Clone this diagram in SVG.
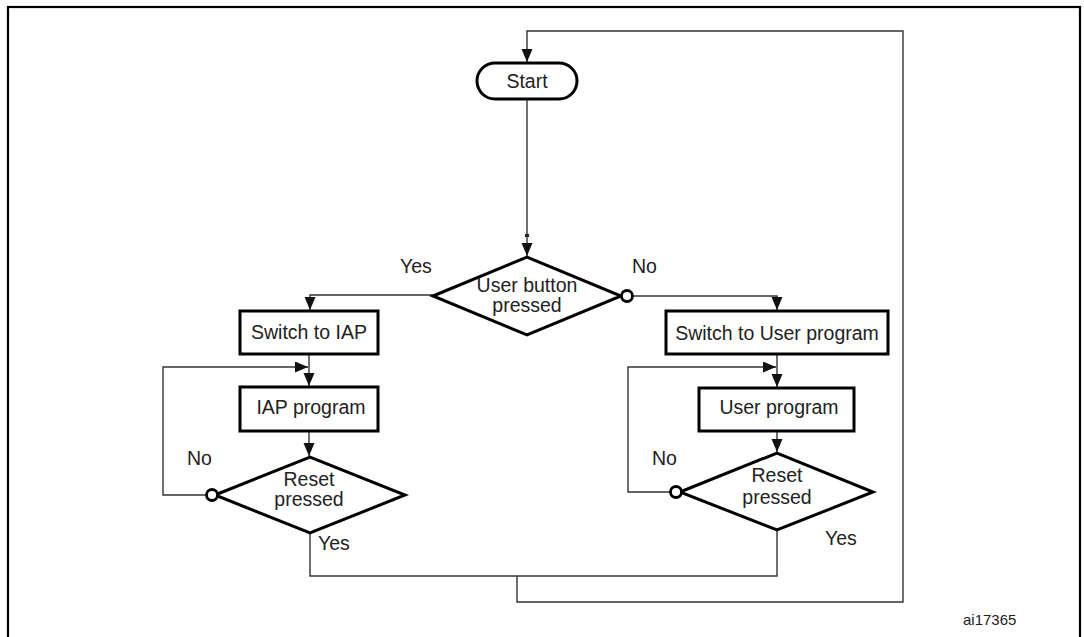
<svg xmlns="http://www.w3.org/2000/svg" width="1084" height="637" viewBox="0 0 1084 637">
<style>
  .node { fill: #fff; stroke: #000; stroke-width: 3; }
  .conn { fill: none; stroke: #333; stroke-width: 1.4; }
  .dot { fill: #fff; stroke: #000; stroke-width: 2.8; }
  text { font-family: "Liberation Sans", Arial, sans-serif; font-size: 19.5px; fill: #222; }
  .mid { text-anchor: middle; }
  .small { font-size: 15px; }
</style>
<defs>
  <marker id="arr" markerUnits="userSpaceOnUse" markerWidth="13" markerHeight="12" refX="13" refY="5.5" orient="auto">
    <path d="M0,0 L13,5.5 L0,11 z" fill="#111"/>
  </marker>
</defs>
<rect x="0" y="0" width="1084" height="637" fill="#fff"/>
<rect x="8" y="7" width="1072" height="650" fill="none" stroke="#000" stroke-width="2.2"/>

<g id="connectors">
  <path class="conn" d="M517,576 V602 H903 V31 H527 V62" marker-end="url(#arr)"/>
  <path class="conn" d="M527,100 V256" marker-end="url(#arr)"/>
  <rect x="525" y="234" width="4" height="3" fill="#222"/>
  <path class="conn" d="M433,295 H310 V310" marker-end="url(#arr)"/>
  <path class="conn" d="M633,296 H777 V310" marker-end="url(#arr)"/>
  <path class="conn" d="M309,354 V386" marker-end="url(#arr)"/>
  <path class="conn" d="M309,431 V456" marker-end="url(#arr)"/>
  <path class="conn" d="M206,495 H163 V367 H308" marker-end="url(#arr)"/>
  <path class="conn" d="M310,533 V576 H777 V530"/>
  <path class="conn" d="M777,354 V387" marker-end="url(#arr)"/>
  <path class="conn" d="M777,431 V452" marker-end="url(#arr)"/>
  <path class="conn" d="M670,492 H628 V367 H776" marker-end="url(#arr)"/>
</g>

<g id="start">
  <rect class="node" x="477" y="63" width="100" height="36" rx="18"/>
  <text class="mid" x="527" y="88">Start</text>
</g>

<g id="user-button">
  <polygon class="node" points="433,296 527,257 621,296 527,335"/>
  <circle class="dot" cx="627" cy="296" r="5.5"/>
  <text class="mid" x="527" y="292">User button</text>
  <text class="mid" x="527" y="312">pressed</text>
  <text x="400" y="273">Yes</text>
  <text x="632" y="273">No</text>
</g>

<g id="switch-iap">
  <rect class="node" x="240" y="311" width="138" height="43"/>
  <text class="mid" x="309" y="339">Switch to IAP</text>
</g>

<g id="iap-program">
  <rect class="node" x="240" y="387" width="138" height="44"/>
  <text class="mid" x="311" y="414">IAP program</text>
</g>

<g id="reset-left">
  <polygon class="node" points="215,495 310,457 405,495 310,533"/>
  <circle class="dot" cx="212" cy="495" r="5.5"/>
  <text class="mid" x="309" y="486">Reset</text>
  <text class="mid" x="309" y="506">pressed</text>
  <text x="187" y="465">No</text>
  <text x="318" y="550">Yes</text>
</g>

<g id="switch-user">
  <rect class="node" x="666" y="311" width="222" height="43"/>
  <text class="mid" x="777" y="340">Switch to User program</text>
</g>

<g id="user-program">
  <rect class="node" x="699" y="388" width="155" height="43"/>
  <text class="mid" x="779" y="414">User program</text>
</g>

<g id="reset-right">
  <polygon class="node" points="680,492 777,453 873,492 777,530"/>
  <circle class="dot" cx="676" cy="492" r="5.5"/>
  <text class="mid" x="777" y="482">Reset</text>
  <text class="mid" x="777" y="504">pressed</text>
  <text x="652" y="465">No</text>
  <text x="825" y="545">Yes</text>
</g>

<text class="small" x="963" y="625">ai17365</text>
</svg>
